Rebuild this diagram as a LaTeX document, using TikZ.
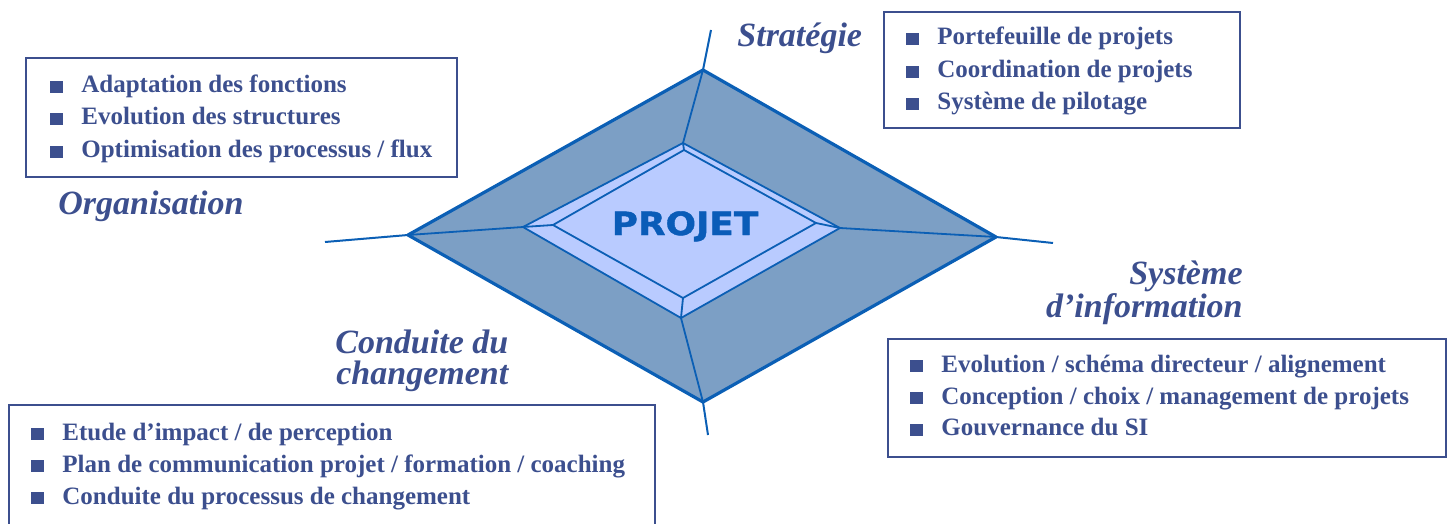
\documentclass[tikz,border=0pt]{standalone}
\usepackage{fontspec}
\setmainfont{Liberation Serif}
\newfontfamily\projfont[FakeStretch=1.12,FakeBold=1.2]{DejaVu Sans}
\usetikzlibrary{fit}
\definecolor{txt}{HTML}{3C4F8E}
\definecolor{ln}{HTML}{0B5FB5}
\definecolor{projc}{HTML}{0A5CB8}
\definecolor{outerf}{HTML}{7C9FC5}
\definecolor{innerf}{HTML}{B9CBFF}
\newcommand\bul{\textcolor{txt}{\rule[0.2pt]{6.2pt}{5.9pt}}\hspace{9.3pt}}
\begin{document}
\begin{tikzpicture}[x=0.5pt,y=-0.5pt,
  box/.style={draw=txt, line width=1pt, inner sep=0pt},
  item/.style={anchor=base west, inner sep=0pt, text=txt, font=\fontsize{12.5}{15}\selectfont\bfseries},
  lab/.style={inner sep=0pt, text=txt, font=\fontsize{17}{17}\selectfont\bfseries\itshape},
  thick line/.style={draw=ln, line width=1.6pt, line join=round},
  thin line/.style={draw=ln, line width=0.9pt, line join=round}]
\useasboundingbox (0,0) rectangle (1448,524);
% diamond coordinates
\coordinate (OT) at (703,70);
\coordinate (OL) at (408,235);
\coordinate (OR) at (996,237);
\coordinate (OB) at (703,402);
\coordinate (MT) at (683,143);
\coordinate (ML) at (523,227);
\coordinate (MR) at (840,228);
\coordinate (MB) at (681,318);
\coordinate (IT) at (684,150);
\coordinate (IL) at (553,225);
\coordinate (IR) at (816,223);
\coordinate (IB) at (683,298);
\coordinate (ET) at (711,30);
\coordinate (EL) at (325,242);
\coordinate (ER) at (1053,243);
\coordinate (EB) at (708,435);
% fills
\fill[outerf] (OT) -- (OR) -- (OB) -- (OL) -- cycle;
\fill[innerf] (MT) -- (MR) -- (MB) -- (ML) -- cycle;
% bevel
\draw[thin line] (MT) -- (MR) -- (MB) -- (ML) -- cycle;
\draw[thin line] (IT) -- (IR) -- (IB) -- (IL) -- cycle;
\draw[thin line] (MT) -- (IT) (MR) -- (IR) (MB) -- (IB) (ML) -- (IL);
% spokes
\draw[thin line] (OT) -- (MT) (OR) -- (MR) (OB) -- (MB) (OL) -- (ML);
% outer edge
\draw[thick line] (OT) -- (OR) -- (OB) -- (OL) -- cycle;
% extensions
\draw[draw=ln, line width=1pt] (OT) -- (ET) (OR) -- (ER) (OB) -- (EB) (OL) -- (EL);
% centre label
\node[anchor=base, inner sep=0pt, text=projc, font=\projfont\bfseries\fontsize{16}{16}\selectfont] (proj) at (685,235) {PROJET};

% Organisation box
\node[box, fit={(26,58) (457,177)}] (orgbox) {};
\node[item] (org1) at (50,93) {\bul Adaptation des fonctions};
\node[item] (org2) at (50,125) {\bul Evolution des structures};
\node[item] (org3) at (50,158) {\bul Optimisation des processus / flux};
\node[lab, anchor=base west] (orglab) at (58,215) {Organisation};

% Strategie box
\node[box, fit={(884,12) (1240,128)}] (strbox) {};
\node[item] (str1) at (906,45) {\bul Portefeuille de projets};
\node[item] (str2) at (906,78) {\bul Coordination de projets};
\node[item] (str3) at (906,110) {\bul Système de pilotage};
\node[lab, anchor=base west] (strlab) at (737,47) {Stratégie};

% SI box
\node[box, fit={(888,339) (1446,457)}] (sibox) {};
\node[item] (si1) at (910,372) {\bul Evolution / schéma directeur / alignement};
\node[item] (si2) at (910,404) {\bul Conception / choix / management de projets};
\node[item] (si3) at (910,436) {\bul Gouvernance du SI};
\node[lab, anchor=base east] (silab1) at (1243,285) {Système};
\node[lab, anchor=base east] (silab2) at (1243,318) {d’information};

% Conduite box
\node[inner sep=0pt, fit={(9,405) (655,524)}] (condbox) {};
\draw[draw=txt, line width=1pt] (condbox.south west) |- (condbox.north east) -- (condbox.south east);
\node[item] (cond1) at (31,440) {\bul Etude d’impact / de perception};
\node[item] (cond2) at (31,472) {\bul Plan de communication projet / formation / coaching};
\node[item] (cond3) at (31,504) {\bul Conduite du processus de changement};
\node[lab, anchor=base west] (condlab1) at (335,353) {Conduite du};
\node[lab, anchor=base west] (condlab2) at (336,385) {changement};
\end{tikzpicture}
\end{document}
